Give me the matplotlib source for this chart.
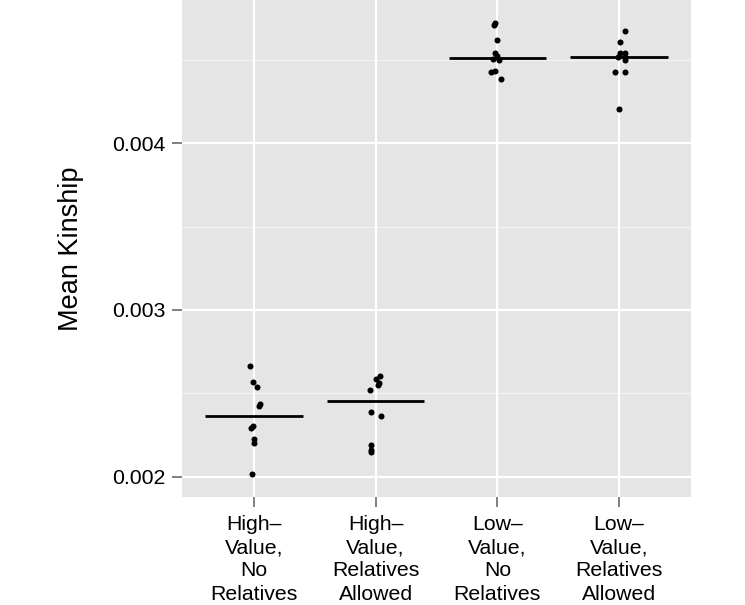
import matplotlib
matplotlib.use("Agg")
import matplotlib.pyplot as plt
import numpy as np

categories = ["High–\nValue,\nNo\nRelatives",
              "High–\nValue,\nRelatives\nAllowed",
              "Low–\nValue,\nNo\nRelatives",
              "Low–\nValue,\nRelatives\nAllowed"]

high_no_rel = [0.002666, 0.002570, 0.002540, 0.002436, 0.002422,
               0.002304, 0.002294, 0.002228, 0.002204, 0.002014]
high_rel = [0.002606, 0.002586, 0.002564, 0.002548, 0.002522,
            0.002390, 0.002366, 0.002192, 0.002160, 0.002148]
low_no_rel = [0.004724, 0.004708, 0.004620, 0.004540, 0.004522,
              0.004507, 0.004500, 0.004436, 0.004426, 0.004386]
low_rel = [0.004674, 0.004610, 0.004544, 0.004540, 0.004520,
           0.004520, 0.004500, 0.004426, 0.004426, 0.004204]

# horizontal jitter (category units)
jit_high_no_rel = [-0.030, -0.003, 0.027, 0.047, 0.039, -0.011, -0.022, 0.0, 0.0, -0.016]
jit_high_rel = [0.035, 0.003, 0.027, 0.016, -0.047, -0.039, 0.047, -0.035, -0.035, -0.035]
jit_low_no_rel = [-0.022, -0.030, -0.006, -0.022, -0.006, -0.033, 0.016, -0.016, -0.052, 0.033]
jit_low_rel = [0.047, 0.008, 0.003, 0.049, 0.047, -0.011, 0.044, -0.035, 0.047, -0.003]

groups = [high_no_rel, high_rel, low_no_rel, low_rel]
jitters = [jit_high_no_rel, jit_high_rel, jit_low_no_rel, jit_low_rel]

yticks = [0.002, 0.003, 0.004]
ytick_labels = ["0.002", "0.003", "0.004"]
minor_ticks = [0.0025, 0.0035, 0.0045]

plt.rcParams['font.family'] = ['Liberation Sans', 'DejaVu Sans']

fig = plt.figure(figsize=(7.45, 6.05), dpi=100)
ax = fig.add_axes([182/745, 1 - 497/605, (691-182)/745, 497/605])
ax.set_facecolor('#E5E5E5')

for y in minor_ticks:
    ax.axhline(y, color='#F2F2F2', lw=1.0, zorder=0)
for y in yticks:
    ax.axhline(y, color='white', lw=1.6, zorder=0.5)
for i in range(len(categories)):
    ax.axvline(i, color='white', lw=1.6, zorder=0.5)

for i, (vals, jit) in enumerate(zip(groups, jitters)):
    xs = i + np.array(jit)
    ax.scatter(xs, vals, s=19, color='black', zorder=3, linewidths=0)
    med = np.median(vals)
    ax.hlines(med, i - 0.4, i + 0.4, color='black', lw=2.0, zorder=2)

ax.set_xlim(-0.59, 3.59)
ax.set_ylim(0.0018782, 0.0048596)
ax.set_xticks(range(len(categories)))
ax.set_xticklabels(categories, fontsize=15.3, linespacing=1.28, color='black')
ax.set_yticks(yticks)
ax.set_yticklabels(ytick_labels, fontsize=15.3, color='black')
ax.tick_params(axis='both', length=7, width=1.4, color='#7F7F7F', pad=5)
ax.tick_params(axis='x', pad=6)
for s in ax.spines.values():
    s.set_visible(False)

ax.set_ylabel("Mean Kinship", fontsize=19.5, labelpad=20)

fig.savefig("out.png", dpi=100)
